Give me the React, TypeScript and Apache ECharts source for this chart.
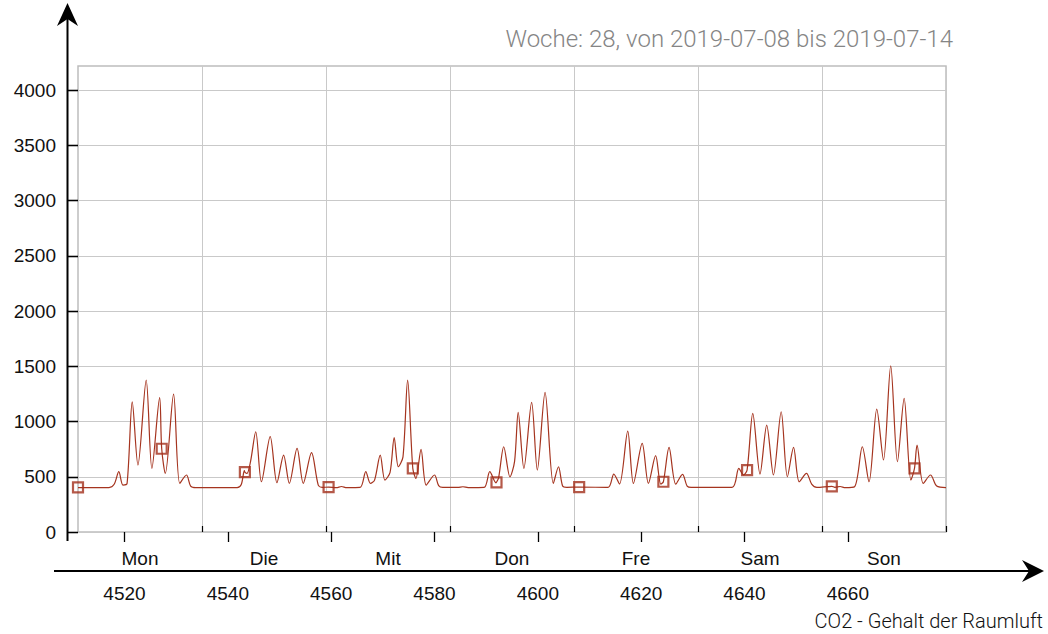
import React, { useEffect, useRef } from 'react';
import * as echarts from 'echarts';

const titleText = 'Woche: 28, von 2019-07-08 bis 2019-07-14';
const footerText = 'CO2 - Gehalt der Raumluft';

const days = ['Mon', 'Die', 'Mit', 'Don', 'Fre', 'Sam', 'Son'];
const xMin = 4511;
const xMax = 4679;
const xTicks = [4520, 4540, 4560, 4580, 4600, 4620, 4640, 4660];
const yTicks = [0, 500, 1000, 1500, 2000, 2500, 3000, 3500, 4000];
const yMax = 4220;

// CO2 readings (hour of year, ppm)
const hours = [
  4511, 4517.0, 4518.0, 4518.9, 4519.7, 4520.5, 4521.5, 4522.6, 4524.2, 4525.3, 4526.8, 4527.9, 4529.5, 4530.7, 4532.0, 4532.8, 4533.8, 4541.8,
  4542.6, 4543.2, 4543.7, 4544.4, 4545.4, 4546.5, 4548.2, 4549.5, 4550.8, 4551.9, 4553.4, 4554.6, 4556.2, 4557.5, 4558.3, 4561.0, 4562.0, 4563.0, 4565.6,
  4566.7, 4567.6, 4568.4, 4569.5, 4570.4, 4571.4, 4572.2, 4573.0, 4573.9, 4574.8, 4576.4, 4577.4, 4578.4, 4580.0, 4580.8, 4581.6, 4584.5, 4585.5, 4586.5, 4589.6,
  4590.7, 4591.9, 4592.4, 4593.4, 4594.6, 4595.5, 4596.2, 4597.3, 4598.8, 4599.9, 4601.4, 4603.0, 4604.0, 4604.8, 4605.6, 4613.6,
  4614.7, 4615.8, 4617.4, 4618.5, 4620.2, 4621.4, 4622.8, 4623.8, 4625.4, 4626.7, 4628.0, 4628.9, 4629.7, 4637.6,
  4638.9, 4639.8, 4641.6, 4643.0, 4644.3, 4645.6, 4647.1, 4648.3, 4649.5, 4650.6, 4652.0, 4653.0, 4654.0, 4657.5, 4658.5, 4659.5, 4661.3,
  4662.8, 4664.1, 4665.6, 4666.9, 4668.3, 4669.6, 4670.9, 4672.2, 4673.4, 4674.6, 4676.0, 4677.2, 4679,
];
const co2 = [
  402, 402, 432, 546, 425, 440, 1179, 606, 1376, 576, 1216, 531, 1249, 440, 516, 416, 402, 402,
  430, 555, 530, 640, 908, 455, 863, 446, 697, 440, 757, 440, 718, 425, 404, 402, 412, 402, 404,
  546, 440, 470, 697, 470, 540, 854, 591, 680, 1376, 486, 748, 425, 516, 420, 404, 404, 410, 402, 404,
  546, 445, 490, 772, 500, 640, 1083, 576, 1174, 561, 1264, 440, 591, 416, 404, 404,
  525, 434, 914, 440, 802, 440, 691, 434, 766, 434, 522, 416, 404, 404,
  576, 516, 1074, 525, 968, 516, 1089, 500, 766, 455, 531, 434, 404, 404, 412, 402, 410,
  772, 455, 1113, 652, 1505, 636, 1210, 470, 787, 440, 516, 416, 402,
];

// marked sample points on the curve
const markerHours = [4511, 4527.2, 4543.3, 4559.5, 4575.8, 4592.0, 4608.0, 4624.3, 4640.5, 4656.9, 4672.9];
const markerCo2 = [405, 754, 543, 407, 576, 449, 407, 455, 561, 414, 576];

export default function App() {
  const ref = useRef<HTMLDivElement>(null);
  useEffect(() => {
    if (!ref.current) return;
    const chart = echarts.init(ref.current, undefined, { renderer: 'svg' });

    const lineData: [number, number][] = hours.map((h, i) => [h, co2[i]] as [number, number]);
    markerHours.forEach((h, i) => lineData.push([h, markerCo2[i]]));
    lineData.sort((a, b) => a[0] - b[0]);
    const markerData = markerHours.map((h, i) => [h, markerCo2[i]]);

    const labelFont = { fontFamily: 'Liberation Sans', fontSize: 19, color: '#111' };
    const gridColor = '#c9c9c9';
    const plain = (v: number) => String(v);

    chart.setOption({
      animation: false,
      backgroundColor: '#fff',
      grid: {
        left: 78, right: 102, top: 66, bottom: 102,
        show: true, borderColor: '#bdbdbd', borderWidth: 1.5, backgroundColor: 'transparent',
      },
      xAxis: [
        {
          type: 'value', min: xMin, max: xMax, position: 'bottom', offset: 39,
          axisLine: { show: false },
          axisTick: { show: true, customValues: xTicks, length: 10, lineStyle: { color: '#000', width: 1.3 } },
          axisLabel: { show: true, customValues: xTicks, margin: 13, formatter: plain, ...labelFont },
          splitLine: { show: false },
        },
        {
          type: 'value', min: 0, max: days.length, interval: 1, position: 'bottom', offset: 39,
          axisLine: { show: false },
          axisTick: { show: true, inside: true, customValues: [1, 2, 3, 4, 5, 6, 7], length: 6, lineStyle: { color: '#000', width: 1.2 } },
          axisLabel: {
            show: true, inside: true, margin: 3,
            customValues: days.map((_, i) => i + 0.5),
            formatter: (v: number) => days[Math.floor(v)] ?? '',
            ...labelFont,
          },
          splitLine: { show: true, lineStyle: { color: gridColor, width: 1 } },
        },
      ],
      yAxis: [
        {
          type: 'value', min: 0, max: yMax, interval: 500, position: 'left', offset: 11,
          axisLine: { show: false },
          axisTick: { show: true, customValues: yTicks, length: 10, lineStyle: { color: '#000', width: 1.3 } },
          axisLabel: { show: true, customValues: yTicks, margin: 11, formatter: plain, ...labelFont },
          splitLine: { show: true, lineStyle: { color: gridColor, width: 1 } },
        },
        {
          type: 'value', min: 0, max: yMax, interval: 500, position: 'left', offset: 0,
          axisLine: { show: false },
          axisTick: { show: true, customValues: yTicks, length: 11, lineStyle: { color: '#000', width: 1.3 } },
          axisLabel: { show: false },
          splitLine: { show: false },
        },
      ],
      series: [
        {
          type: 'line', xAxisIndex: 0, yAxisIndex: 0, data: lineData,
          showSymbol: false, symbol: 'none', smooth: 0.3,
          lineStyle: { color: '#a5341f', width: 1.2 }, z: 3,
        },
        {
          type: 'scatter', xAxisIndex: 0, yAxisIndex: 0, data: markerData,
          symbol: 'rect', symbolSize: 10, clip: false,
          itemStyle: { color: 'rgba(0,0,0,0)', borderColor: '#a3301c', borderWidth: 2.2 }, z: 4,
        },
      ],
      graphic: [
        { type: 'line', silent: true, z: 10, shape: { x1: 67.5, y1: 10, x2: 67.5, y2: 541 }, style: { stroke: '#000', lineWidth: 2 } },
        { type: 'polygon', silent: true, z: 10, shape: { points: [[67.5, 3], [78, 26], [67.5, 19], [57, 26]] }, style: { fill: '#000' } },
        { type: 'line', silent: true, z: 10, shape: { x1: 54, y1: 571, x2: 1034, y2: 571 }, style: { stroke: '#000', lineWidth: 2 } },
        { type: 'polygon', silent: true, z: 10, shape: { points: [[1044, 571], [1022, 560], [1029, 571], [1022, 582]] }, style: { fill: '#000' } },
        {
          type: 'text', silent: true, x: 953, y: 39,
          style: { text: titleText, align: 'right', verticalAlign: 'middle', fontFamily: 'Roboto', fontWeight: 300, fontSize: 24, fill: '#858585' },
        },
        {
          type: 'text', silent: true, x: 1043, y: 621,
          style: { text: footerText, align: 'right', verticalAlign: 'middle', fontFamily: 'Roboto', fontWeight: 300, fontSize: 20, fill: '#111' },
        },
      ],
    });
    return () => chart.dispose();
  }, []);

  return <div ref={ref} style={{ position: 'fixed', left: 0, top: 0, width: 1048, height: 634, background: '#fff' }} />;
}
